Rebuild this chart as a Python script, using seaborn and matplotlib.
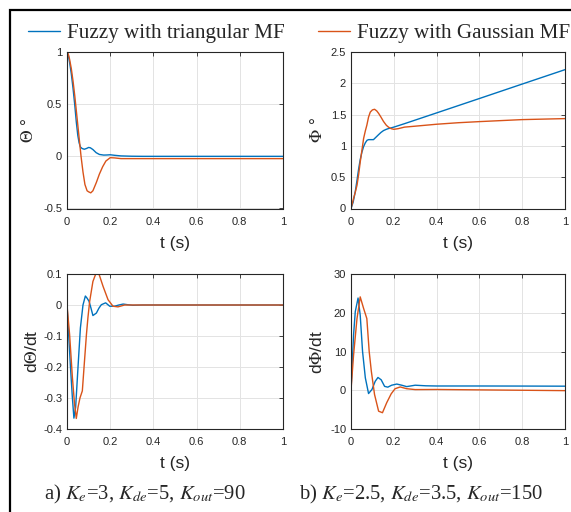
import numpy as np
import pandas as pd
import matplotlib
matplotlib.use("Agg")
import matplotlib.pyplot as plt
import seaborn as sns
from matplotlib.patches import Rectangle

# ---------------- data ----------------
series_names = ["Fuzzy with triangular MF", "Fuzzy with Gaussian MF"]
x_ticks = [0, 0.2, 0.4, 0.6, 0.8, 1]
x_tick_labels = ["0", "0.2", "0.4", "0.6", "0.8", "1"]

# Theta (top-left)
t_theta_tri = [0, 0.006, 0.012, 0.02, 0.028, 0.036, 0.043, 0.05, 0.056, 0.062, 0.07, 0.08, 0.09, 0.1, 0.108,
               0.12, 0.135, 0.15, 0.17, 0.185, 0.2, 0.22, 0.25, 0.3, 0.35, 0.4, 0.6, 0.8, 1.0]
theta_tri = [1.0, 0.97, 0.9, 0.79, 0.65, 0.49, 0.33, 0.2, 0.13, 0.09, 0.075, 0.068, 0.075, 0.085, 0.082,
             0.065, 0.035, 0.018, 0.012, 0.013, 0.015, 0.01, 0.004, 0.001, 0.0, 0.0, 0.0, 0.0, 0.0]
t_theta_gau = [0, 0.006, 0.012, 0.02, 0.028, 0.036, 0.043, 0.05, 0.058, 0.065, 0.074, 0.083, 0.093, 0.1, 0.11,
               0.12, 0.136, 0.15, 0.165, 0.18, 0.2, 0.22, 0.25, 0.3, 0.4, 0.6, 0.8, 1.0]
theta_gau = [1.0, 0.98, 0.93, 0.84, 0.72, 0.58, 0.44, 0.3, 0.14, 0.0, -0.15, -0.27, -0.33, -0.34, -0.35,
             -0.33, -0.25, -0.17, -0.1, -0.045, -0.013, -0.015, -0.022, -0.022, -0.022, -0.022, -0.022, -0.022]
theta_yticks = [-0.5, 0, 0.5, 1]
theta_ytick_labels = ["-0.5", "0", "0.5", "1"]

# Phi (top-right)
t_phi_tri = [0, 0.01, 0.02, 0.028, 0.036, 0.043, 0.051, 0.059, 0.067, 0.075, 0.082, 0.095, 0.105, 0.117,
             0.129, 0.14, 0.152, 0.165, 0.175, 0.19, 0.2, 0.25, 0.4, 0.6, 0.8, 1.0]
phi_tri = [0, 0.1, 0.27, 0.45, 0.64, 0.78, 0.9, 0.99, 1.05, 1.09, 1.1, 1.1, 1.1, 1.14,
           1.18, 1.215, 1.245, 1.265, 1.277, 1.29, 1.3, 1.355, 1.527, 1.757, 1.988, 2.218]
t_phi_gau = [0, 0.012, 0.02, 0.028, 0.036, 0.043, 0.051, 0.059, 0.067, 0.074, 0.082, 0.09, 0.1, 0.11, 0.12,
             0.129, 0.14, 0.152, 0.165, 0.175, 0.188, 0.2, 0.22, 0.25, 0.3, 0.4, 0.5, 0.6, 0.8, 1.0]
phi_gau = [0, 0.16, 0.26, 0.37, 0.55, 0.74, 0.93, 1.12, 1.24, 1.33, 1.46, 1.54, 1.575, 1.585, 1.56,
           1.52, 1.46, 1.39, 1.33, 1.3, 1.275, 1.265, 1.275, 1.3, 1.315, 1.346, 1.37, 1.388, 1.42, 1.436]
phi_yticks = [0, 0.5, 1, 1.5, 2, 2.5]
phi_ytick_labels = ["0", "0.5", "1", "1.5", "2", "2.5"]

# dTheta/dt (bottom-left)
t_dtheta_tri = [0, 0.008, 0.016, 0.025, 0.032, 0.04, 0.051, 0.062, 0.074, 0.085, 0.093, 0.102, 0.111, 0.12,
                0.136, 0.148, 0.159, 0.179, 0.198, 0.22, 0.24, 0.26, 0.28, 0.305, 0.35, 0.4, 1.0]
dtheta_tri = [0, -0.1, -0.2, -0.3, -0.365, -0.33, -0.2, -0.074, 0.0, 0.029, 0.022, 0.012, -0.01, -0.034,
              -0.026, -0.01, 0.001, 0.007, -0.004, -0.004, 0.0, 0.003, 0.001, -0.001, 0.0, 0.0, 0.0]
t_dtheta_gau = [0, 0.012, 0.025, 0.035, 0.043, 0.051, 0.06, 0.071, 0.08, 0.09, 0.097, 0.105, 0.12, 0.133,
                0.148, 0.167, 0.19, 0.213, 0.236, 0.267, 0.3, 0.4, 1.0]
dtheta_gau = [0, -0.095, -0.234, -0.32, -0.366, -0.33, -0.3, -0.277, -0.19, -0.095, -0.04, 0.012, 0.076, 0.1,
              0.1, 0.06, 0.017, -0.004, -0.006, 0.0, 0.0, 0.0, 0.0]
dtheta_yticks = [-0.4, -0.3, -0.2, -0.1, 0, 0.1]
dtheta_ytick_labels = ["-0.4", "-0.3", "-0.2", "-0.1", "0", "0.1"]

# dPhi/dt (bottom-right)
t_dphi_tri = [0, 0.012, 0.02, 0.033, 0.043, 0.054, 0.067, 0.082, 0.098, 0.113, 0.126, 0.141, 0.157, 0.172,
              0.19, 0.214, 0.237, 0.26, 0.3, 0.35, 0.4, 0.6, 0.8, 1.0]
dphi_tri = [0, 14.3, 20.3, 23.8, 19.4, 10, 3.2, -0.85, 0.2, 2.3, 3.3, 2.7, 1.0, 0.8,
            1.3, 1.6, 1.3, 0.94, 1.3, 1.15, 1.1, 1.1, 1.08, 1.05]
t_dphi_gau = [0, 0.012, 0.028, 0.043, 0.059, 0.074, 0.085, 0.095, 0.11, 0.129, 0.147, 0.167, 0.188, 0.206,
              0.23, 0.26, 0.3, 0.4, 0.6, 0.8, 1.0]
dphi_gau = [0, 9.1, 18.5, 24.1, 21.1, 18.5, 10, 4.9, -1.1, -5.4, -5.8, -3.2, -0.9, 0.4,
            0.85, 0.4, 0.17, 0.2, 0.1, 0.0, -0.1]
dphi_yticks = [-10, 0, 10, 20, 30]
dphi_ytick_labels = ["-10", "0", "10", "20", "30"]

captions = [r"a) $K_e$=3, $K_{de}$=5, $K_{out}$=90", r"b) $K_e$=2.5, $K_{de}$=3.5, $K_{out}$=150"]

# ---------------- style ----------------
sns.set_style("white")
plt.rcParams["font.family"] = ["Liberation Sans", "DejaVu Sans"]
plt.rcParams["mathtext.fontset"] = "stix"

palette = {series_names[0]: "#0072BD", series_names[1]: "#D95319"}
AX_COLOR = "#262626"

W, H = 571, 512
fig = plt.figure(figsize=(W / 100, H / 100), dpi=100)


def px_axes(left, top, right, bottom):
    return fig.add_axes([left / W, 1 - bottom / H, (right - left) / W, (bottom - top) / H])


def long_df(t1, v1, t2, v2):
    return pd.concat([
        pd.DataFrame({"t": t1, "v": v1, "series": series_names[0]}),
        pd.DataFrame({"t": t2, "v": v2, "series": series_names[1]}),
    ], ignore_index=True)


panels = [
    dict(box=(67, 52, 283, 208.5), data=(t_theta_tri, theta_tri, t_theta_gau, theta_gau),
         ylim=(-0.5, 1), yticks=theta_yticks, ylabels=theta_ytick_labels,
         ylabel=r"$\Theta$ °", lx=-0.145),
    dict(box=(351, 52, 565, 208.5), data=(t_phi_tri, phi_tri, t_phi_gau, phi_gau),
         ylim=(0, 2.5), yticks=phi_yticks, ylabels=phi_ytick_labels,
         ylabel=r"$\Phi$ °", lx=-0.122),
    dict(box=(67, 274, 283, 429), data=(t_dtheta_tri, dtheta_tri, t_dtheta_gau, dtheta_gau),
         ylim=(-0.4, 0.1), yticks=dtheta_yticks, ylabels=dtheta_ytick_labels,
         ylabel=r"d$\Theta$/dt", lx=-0.125),
    dict(box=(351, 274, 565, 429), data=(t_dphi_tri, dphi_tri, t_dphi_gau, dphi_gau),
         ylim=(-10, 30), yticks=dphi_yticks, ylabels=dphi_ytick_labels,
         ylabel=r"d$\Phi$/dt", lx=-0.122),
]

axes = []
for p in panels:
    ax = px_axes(*p["box"])
    df = long_df(*p["data"])
    sns.lineplot(data=df, x="t", y="v", hue="series", hue_order=series_names, palette=palette,
                 estimator=None, sort=False, linewidth=1.0, legend=False, ax=ax)
    ax.set_xlim(0, 1)
    ax.set_ylim(*p["ylim"])
    ax.set_xticks(x_ticks)
    ax.set_xticklabels(x_tick_labels)
    ax.set_yticks(p["yticks"])
    ax.set_yticklabels(p["ylabels"])
    ax.grid(True, color="#e3e3e3", linewidth=0.7)
    ax.set_axisbelow(True)
    for s in ax.spines.values():
        s.set_visible(True)
        s.set_color(AX_COLOR)
        s.set_linewidth(0.8)
    ax.tick_params(direction="in", length=3, width=0.6, colors=AX_COLOR, labelsize=8,
                   top=True, right=True, labelcolor=AX_COLOR)
    ax.tick_params(axis="x", pad=6.0)
    ax.set_xlabel("t (s)", fontsize=12.5, color=AX_COLOR, labelpad=6.5)
    ax.set_ylabel(p["ylabel"], fontsize=12.5, color=AX_COLOR)
    ax.yaxis.set_label_coords(p["lx"], 0.5)
    axes.append(ax)

# legend across the top: one entry per column, anchored where the reference has them
handles = axes[0].get_lines()[:2]
legend_x = [28, 318]
for h, name, lx in zip(handles, series_names, legend_x):
    fig.legend([h], [name], loc="center left", bbox_to_anchor=(lx / W, 1 - 33 / H),
               frameon=False, borderpad=0, borderaxespad=0, handlelength=1.5,
               handletextpad=0.33, prop={"family": "Liberation Serif", "size": 15.2})

# captions
fig.text(145 / W, 1 - 494 / H, captions[0], ha="center", va="center",
         family="Liberation Serif", fontsize=14.9)
fig.text(421 / W, 1 - 494 / H, captions[1], ha="center", va="center",
         family="Liberation Serif", fontsize=14.9)

# outer frame (top and left edges visible)
fig.add_artist(Rectangle((10 / W, -0.2), 1.5, (1 - 9.5 / H) + 0.2, transform=fig.transFigure,
                         fill=False, edgecolor="black", linewidth=1.6, clip_on=False))

fig.savefig("out.png", dpi=100)
